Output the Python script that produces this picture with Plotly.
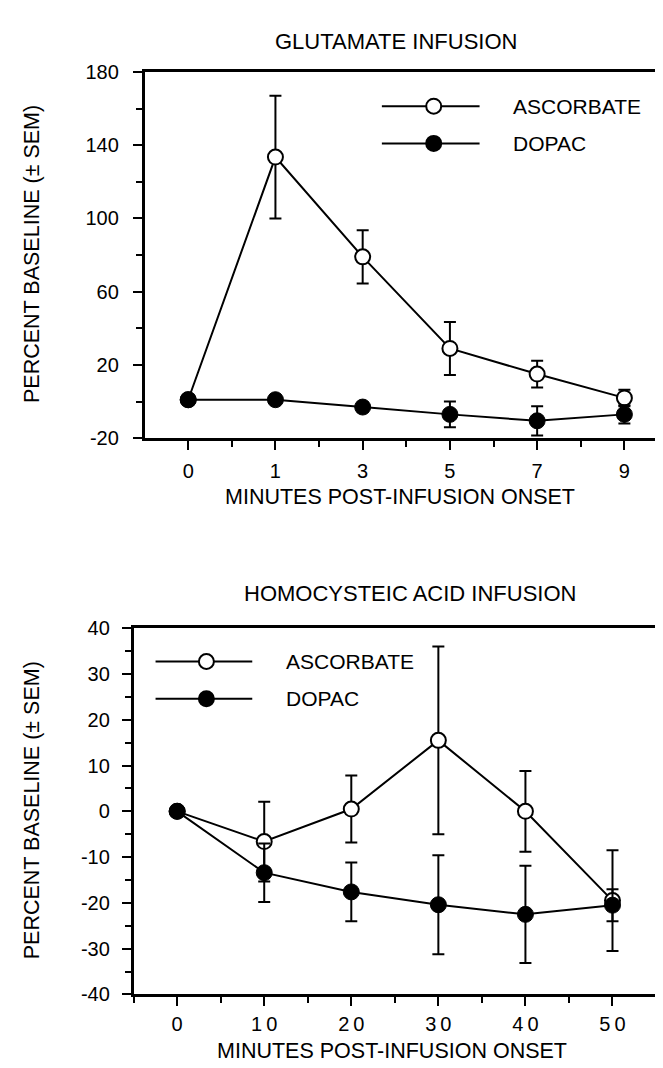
import plotly.graph_objects as go

# ---------------- data ----------------
glu_minutes = ["0", "1", "3", "5", "7", "9"]
glu_asc = [1, 133.5, 79, 29, 15, 2]
glu_asc_sem = [0, 33.5, 14.5, 14.5, 7.3, 4.5]
glu_dopac = [1, 1, -3, -7, -10.5, -7]
glu_dopac_sem = [0, 0, 2.5, 7, 8, 5]

hca_minutes = [0, 10, 20, 30, 40, 50]
hca_asc = [0, -6.6, 0.5, 15.5, 0, -19.5]
hca_asc_sem = [0, 8.7, 7.3, 20.5, 8.8, 11]
hca_dopac = [0, -13.4, -17.6, -20.4, -22.5, -20.5]
hca_dopac_sem = [0, 6.4, 6.4, 10.8, 10.6, 3.5]

hca_tick_labels = ["0", "1\u20090", "2\u20090", "3\u20090", "4\u20090", "5\u20090"]
glu_y_ticks = [-20, 20, 60, 100, 140, 180]
glu_y_labels = ["-20", "20", "60", "100", "140", "180"]
hca_y_ticks = [-40, -30, -20, -10, 0, 10, 20, 30, 40]
hca_y_labels = ["-40", "-30", "-20", "-10", "0", "10", "20", "30", "40"]

series_names = ["ASCORBATE", "DOPAC"]

# ---------------- style ----------------
FONT = "Liberation Sans, Arial, Helvetica, sans-serif"
W, H = 663, 1068
fs_tick = 20
fs_legend = 21
fs_axis_title = 21.5
fs_title = 22

def px_x(p):
    return p / W

def px_y(p):
    return 1 - p / H

top_dom_x = [px_x(137), px_x(662)]
top_dom_y = [px_y(428), px_y(54)]
bot_dom_x = [px_x(126), px_x(650)]
bot_dom_y = [px_y(996), px_y(622)]

open_marker = dict(symbol="circle", size=15, color="white", line=dict(color="black", width=2))
fill_marker = dict(symbol="circle", size=16, color="black", line=dict(color="black", width=1))
line_style = dict(color="black", width=2)

def err(arr):
    return dict(type="data", array=arr, visible=True, color="black", thickness=2, width=6)

fig = go.Figure()
glu_idx = list(range(len(glu_minutes)))

fig.add_trace(go.Scatter(x=glu_idx, y=glu_asc, error_y=err(glu_asc_sem), mode="lines+markers",
                         marker=open_marker, line=line_style, name=series_names[0],
                         xaxis="x", yaxis="y", showlegend=False, cliponaxis=False))
fig.add_trace(go.Scatter(x=glu_idx, y=glu_dopac, error_y=err(glu_dopac_sem), mode="lines+markers",
                         marker=fill_marker, line=line_style, name=series_names[1],
                         xaxis="x", yaxis="y", showlegend=False, cliponaxis=False))
fig.add_trace(go.Scatter(x=hca_minutes, y=hca_asc, error_y=err(hca_asc_sem), mode="lines+markers",
                         marker=open_marker, line=line_style, name=series_names[0],
                         xaxis="x2", yaxis="y2", showlegend=False, cliponaxis=False))
fig.add_trace(go.Scatter(x=hca_minutes, y=hca_dopac, error_y=err(hca_dopac_sem), mode="lines+markers",
                         marker=fill_marker, line=line_style, name=series_names[1],
                         xaxis="x2", yaxis="y2", showlegend=False, cliponaxis=False))

axis_common = dict(showline=True, linewidth=2.5, linecolor="black", mirror=True,
                   showgrid=False, zeroline=False, ticks="outside", tickwidth=2,
                   tickcolor="black", ticklen=9,
                   tickfont=dict(family=FONT, size=fs_tick, color="black"))

fig.update_layout(
    width=W, height=H,
    margin=dict(l=0, r=0, t=0, b=0),
    paper_bgcolor="white", plot_bgcolor="white",
    font=dict(family=FONT, size=fs_tick, color="black"),
    xaxis=dict(domain=top_dom_x, anchor="y", range=[-0.5, len(glu_minutes) - 0.5],
               tickmode="array", tickvals=glu_idx, ticktext=glu_minutes,
               minor=dict(tickvals=[i + 0.5 for i in glu_idx[:-1]], ticks="outside",
                          ticklen=6, tickwidth=2, tickcolor="black"),
               ticklabelstandoff=4, **axis_common),
    yaxis=dict(domain=top_dom_y, anchor="x", range=[-20, 180],
               tickmode="array", tickvals=glu_y_ticks, ticktext=glu_y_labels,
               minor=dict(dtick=20, tick0=-20, ticks="outside", ticklen=6, tickwidth=2, tickcolor="black"),
               ticklabelstandoff=10, **axis_common),
    xaxis2=dict(domain=bot_dom_x, anchor="y2", range=[-5, 55],
                tickmode="array", tickvals=hca_minutes, ticktext=hca_tick_labels,
                minor=dict(dtick=5, tick0=0, ticks="outside", ticklen=6, tickwidth=2, tickcolor="black"),
                ticklabelstandoff=1, **axis_common),
    yaxis2=dict(domain=bot_dom_y, anchor="x2", range=[-40, 40],
                tickmode="array", tickvals=hca_y_ticks, ticktext=hca_y_labels,
                minor=dict(dtick=5, tick0=-40, ticks="outside", ticklen=6, tickwidth=2, tickcolor="black"),
                ticklabelstandoff=8, **axis_common),
)

# ---------------- titles ----------------
def ann(text, x, y, size, angle=0):
    fig.add_annotation(text=text, x=px_x(x), y=px_y(y), xref="paper", yref="paper",
                       showarrow=False, textangle=angle, xanchor="center", yanchor="middle",
                       font=dict(family=FONT, size=size, color="black"))

ann("GLUTAMATE INFUSION", 389, 23, fs_title)
ann("MINUTES POST-INFUSION ONSET", 393, 488, fs_axis_title)
ann("PERCENT BASELINE (\u00b1 SEM)", 24, 240, fs_axis_title, angle=-90)
ann("HOMOCYSTEIC ACID INFUSION", 403, 587, fs_title)
ann("MINUTES POST-INFUSION ONSET", 385, 1054, fs_axis_title)
ann("PERCENT BASELINE (\u00b1 SEM)", 24, 808, fs_axis_title, angle=-90)

# ---------------- legends (drawn as keys) ----------------
def legend_key(x0, x1, xm, y, filled, label, tx):
    fig.add_shape(type="line", xref="paper", yref="paper",
                  x0=px_x(x0), x1=px_x(x1), y0=px_y(y), y1=px_y(y),
                  line=dict(color="black", width=2))
    r = 7.5
    fig.add_shape(type="circle", xref="paper", yref="paper",
                  xsizemode="pixel", ysizemode="pixel",
                  xanchor=px_x(xm), yanchor=px_y(y),
                  x0=-r, x1=r, y0=-r, y1=r,
                  fillcolor="black" if filled else "white",
                  line=dict(color="black", width=2))
    fig.add_annotation(text=label, x=px_x(tx), y=px_y(y), xref="paper", yref="paper",
                       showarrow=False, xanchor="left", yanchor="middle",
                       font=dict(family=FONT, size=fs_legend, color="black"))

legend_key(375, 473, 427, 89, False, series_names[0], 505)
legend_key(375, 473, 427, 127, True, series_names[1], 505)
legend_key(148, 245, 199, 656, False, series_names[0], 277)
legend_key(148, 245, 199, 694, True, series_names[1], 277)

fig.write_html("out.html")
